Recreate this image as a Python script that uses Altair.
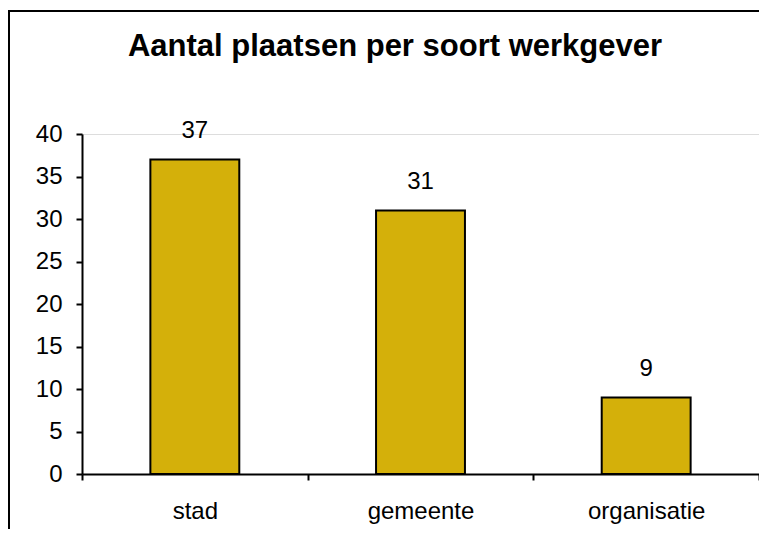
import altair as alt
import pandas as pd

categories = ["stad", "gemeente", "organisatie"]
values = [37, 31, 9]
title_text = "Aantal plaatsen per soort werkgever"
y_ticks = [0, 5, 10, 15, 20, 25, 30, 35, 40]

df = pd.DataFrame({"soort": categories, "aantal": values})

FONT = "Liberation Sans"
BAR = "#D4B00A"

x_enc = alt.X(
    "soort:N",
    sort=categories,
    scale=alt.Scale(paddingInner=0, paddingOuter=0),
    axis=alt.Axis(
        title=None, labelAngle=0, tickBand="extent", tickSize=6, tickWidth=2,
        tickColor="black", domainColor="black", domainWidth=2,
        labelFont=FONT, labelFontSize=24, labelColor="black", labelPadding=19,
    ),
)
y_enc = alt.Y(
    "aantal:Q",
    scale=alt.Scale(domain=[0, 40], nice=False),
    axis=alt.Axis(
        title=None, values=y_ticks, grid=False, tickSize=6, tickWidth=2,
        tickColor="black", domainColor="black", domainWidth=2,
        labelFont=FONT, labelFontSize=24, labelColor="black", labelPadding=14,
    ),
)

base = alt.Chart(df)
bars = base.mark_bar(
    color=BAR, stroke="black", strokeWidth=2, width=alt.RelativeBandSize(0.394)
).encode(x=x_enc, y=y_enc)

labels = base.mark_text(
    font=FONT, fontSize=24, color="black", baseline="alphabetic", dy=-22
).encode(x=alt.X("soort:N", sort=categories), y="aantal:Q", text="aantal:Q")

one = alt.Data(values=[{}])
title = alt.Chart(one).mark_text(
    font=FONT, fontSize=31, fontWeight="bold", color="black",
    align="center", baseline="alphabetic",
).encode(x=alt.value(313), y=alt.value(-78), text=alt.value(title_text))

# chart-area frame: only its left and top sides fall inside the picture
frame_left = alt.Chart(one).mark_rule(color="black", strokeWidth=2).encode(
    x=alt.value(-73), y=alt.value(-124), y2=alt.value(395)
)
frame_top = alt.Chart(one).mark_rule(color="black", strokeWidth=2).encode(
    y=alt.value(-123), x=alt.value(-74), x2=alt.value(677)
)

chart = alt.layer(frame_left, frame_top, bars, labels, title).properties(
    width=677,
    height=340,
    autosize=alt.AutoSizeParams(type="none"),
    padding={"left": 74, "top": 126, "right": 0, "bottom": 56},
).configure_view(stroke=None).configure(background="white")

chart.save("out.html", embed_options={"renderer": "svg", "actions": False})
